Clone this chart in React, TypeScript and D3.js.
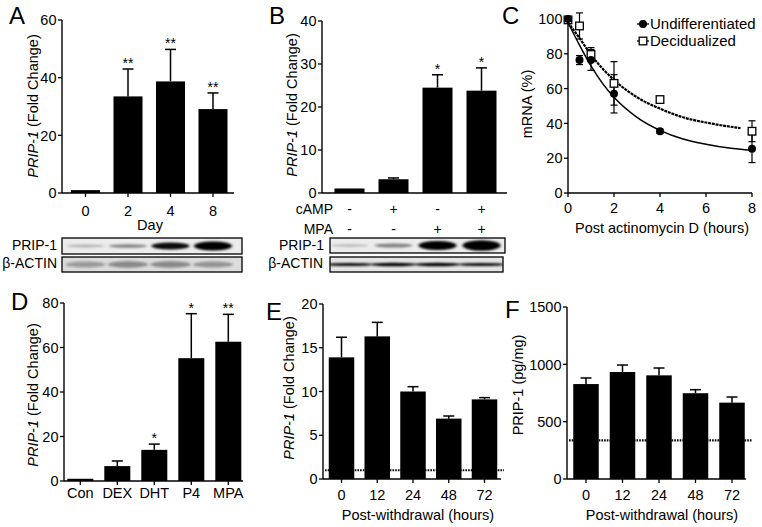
import React from "react";
import * as d3 from "d3";

const FONT = "'Liberation Sans', Arial, Helvetica, sans-serif";

// ---------- Panel A ----------
const dayCats = ["0", "2", "4", "8"];
const dayFold = [1.0, 33.5, 38.7, 29.1];
const dayFoldErr = [0, 9.5, 11.1, 5.6];
const dayStars = ["", "**", "**", "**"];
const dayTicks = [0, 20, 40, 60];
const dayBlotPrip = [0.25, 0.45, 0.95, 1.0];
const dayBlotPripSize = [1.4, 1.8, 3.4, 4.6];
const dayBlotActin = [0.35, 0.45, 0.45, 0.4];

// ---------- Panel B ----------
const treatCats = ["t1", "t2", "t3", "t4"];
const treatFold = [1.05, 3.2, 24.5, 23.8];
const treatFoldErr = [0, 0.3, 3.0, 5.3];
const treatStars = ["", "", "*", "*"];
const treatTicks = [0, 10, 20, 30, 40];
const campSigns = ["-", "+", "-", "+"];
const mpaSigns = ["-", "-", "+", "+"];
const treatBlotPrip = [0.2, 0.45, 1.0, 1.0];
const treatBlotPripSize = [1.4, 2.0, 4.6, 5.2];
const treatBlotActin = [0.95, 1.0, 1.0, 0.95];

// ---------- Panel C ----------
const timeHours = [0, 0.5, 1, 2, 4, 8];
const undiffMrna = [100, 76.4, 76.5, 57, 35.5, 25.5];
const undiffErr = [0, 2.6, 6, 11, 1.2, 8];
const decidMrna = [99.5, 96, 79.6, 63, 53.7, 35.5];
const decidErr = [0, 7.5, 4, 12.5, 1, 6];
const undiffFitT = [0, 0.5, 1, 1.5, 2, 3, 4, 5, 6, 7, 8];
const undiffFit = [98, 85, 73, 63, 55, 43.5, 36, 31, 28, 25.8, 24.5];
const decidFitT = [0, 0.5, 1, 1.5, 2, 3, 4, 5, 6, 7, 7.5];
const decidFit = [98, 89, 79.5, 71.5, 65, 55, 48.5, 43.5, 40.5, 38.2, 37.3];
const hourTicks = [0, 2, 4, 6, 8];
const mrnaTicks = [0, 20, 40, 60, 80, 100];
const legendNames = ["Undifferentiated", "Decidualized"];

// ---------- Panel D ----------
const steroidCats = ["Con", "DEX", "DHT", "P4", "MPA"];
const steroidFold = [1.0, 6.7, 14.0, 55.2, 62.6];
const steroidFoldErr = [0, 2.3, 2.6, 20.0, 12.3];
const steroidStars = ["", "", "*", "*", "**"];
const steroidTicks = [0, 20, 40, 60, 80];

// ---------- Panel E ----------
const withdrawCats = ["0", "12", "24", "48", "72"];
const withdrawFold = [13.9, 16.3, 10.0, 6.9, 9.1];
const withdrawFoldErr = [2.3, 1.6, 0.55, 0.3, 0.2];
const withdrawFoldTicks = [0, 5, 10, 15, 20];
const withdrawFoldBaseline = 1;

// ---------- Panel F ----------
const withdrawProt = [828, 933, 904, 748, 666];
const withdrawProtErr = [53, 61, 64, 31, 49];
const withdrawProtTicks = [0, 500, 1000, 1500];
const withdrawProtBaseline = 337;

const TICK_FS = 14.5;
const TITLE_FS = 14.5;

type BarProps = {
  cats: string[];
  values: number[];
  errs: number[];
  stars?: string[];
  yMax: number;
  ticks: number[];
  left: number;
  axisRight: number;
  top: number;
  bottom: number;
  c0: number;
  cN: number;
  barW: number;
  showXTicks?: boolean;
  tickLabelY?: number;
  refLine?: number;
  refLineEnd?: number;
};

function bandScale(cats: string[], c0: number, cN: number, barW: number) {
  const n = cats.length;
  const step = (cN - c0) / (n - 1);
  const pi = 1 - barW / step;
  return d3
    .scaleBand<string>()
    .domain(cats)
    .range([c0 - step / 2, cN + step / 2])
    .paddingInner(pi)
    .paddingOuter(pi / 2);
}

function YAxis({ y, ticks, x }: { y: d3.ScaleLinear<number, number>; ticks: number[]; x: number }) {
  const [lo, hi] = y.range();
  return (
    <g>
      <line x1={x} x2={x} y1={lo} y2={hi} stroke="#000" strokeWidth={1.4} />
      {ticks.map((t) => (
        <g key={t}>
          <line x1={x - 4} x2={x} y1={y(t)} y2={y(t)} stroke="#000" strokeWidth={1.3} />
          <text x={x - 5.5} y={y(t)} dy="0.36em" textAnchor="end" fontSize={TICK_FS}>
            {t}
          </text>
        </g>
      ))}
    </g>
  );
}

function BarPanel(p: BarProps) {
  const x = bandScale(p.cats, p.c0, p.cN, p.barW);
  const y = d3.scaleLinear().domain([0, p.yMax]).range([p.bottom, p.top]);
  const bw = x.bandwidth();
  return (
    <g>
      {p.cats.map((c, i) => {
        const bx = x(c)!;
        const cx = bx + bw / 2;
        const yt = y(p.values[i]);
        const ye = y(p.values[i] + p.errs[i]);
        return (
          <g key={c}>
            <rect x={bx} y={yt} width={bw} height={p.bottom - yt} fill="#000" />
            {p.errs[i] > 0 && (
              <g stroke="#000" strokeWidth={1.5}>
                <line x1={cx} x2={cx} y1={yt} y2={ye} />
                <line x1={cx - 5.5} x2={cx + 5.5} y1={ye} y2={ye} />
              </g>
            )}
            {p.stars && p.stars[i] && (
              <text x={cx} y={ye - 1} textAnchor="middle" fontSize={14}>
                {p.stars[i]}
              </text>
            )}
            {p.showXTicks && (
              <line x1={cx} x2={cx} y1={p.bottom} y2={p.bottom + 4} stroke="#000" strokeWidth={1.3} />
            )}
            {p.tickLabelY !== undefined && (
              <text x={cx} y={p.tickLabelY} textAnchor="middle" fontSize={TICK_FS}>
                {c}
              </text>
            )}
          </g>
        );
      })}
      {p.refLine !== undefined && (
        <line
          x1={p.left + 2}
          x2={p.refLineEnd}
          y1={y(p.refLine)}
          y2={y(p.refLine)}
          stroke="#000"
          strokeWidth={2.2}
          strokeDasharray="1.6,1.1"
        />
      )}
      <YAxis y={y} ticks={p.ticks} x={p.left} />
      <line x1={p.left} x2={p.axisRight} y1={p.bottom} y2={p.bottom} stroke="#000" strokeWidth={1.4} />
    </g>
  );
}

function Blot({
  x0,
  x1,
  y0,
  y1,
  centers,
  intens,
  sizes,
  bg,
  color,
  laneW,
  id,
}: {
  x0: number;
  x1: number;
  y0: number;
  y1: number;
  centers: number[];
  intens: number[];
  sizes: number[];
  bg: string;
  color: string;
  laneW: number;
  id: string;
}) {
  const cy = (y0 + y1) / 2;
  return (
    <g>
      <defs>
        <clipPath id={"clip" + id}>
          <rect x={x0} y={y0} width={x1 - x0} height={y1 - y0} />
        </clipPath>
      </defs>
      <rect x={x0} y={y0} width={x1 - x0} height={y1 - y0} fill={bg} />
      <g clipPath={`url(#clip${id})`} filter="url(#blotBlur)">
        {centers.map((c, i) => (
          <ellipse key={i} cx={c} cy={cy} rx={laneW / 2} ry={sizes[i]} fill={color} opacity={intens[i]} />
        ))}
      </g>
      <rect x={x0} y={y0} width={x1 - x0} height={y1 - y0} fill="none" stroke="#000" strokeWidth={1.3} />
    </g>
  );
}

function centersOf(cats: string[], c0: number, cN: number, barW: number) {
  const x = bandScale(cats, c0, cN, barW);
  return cats.map((c) => x(c)! + x.bandwidth() / 2);
}

function ErrBar({ cx, y1, y2 }: { cx: number; y1: number; y2: number }) {
  return (
    <g stroke="#000" strokeWidth={1.2}>
      <line x1={cx} x2={cx} y1={y1} y2={y2} />
      <line x1={cx - 3.5} x2={cx + 3.5} y1={y1} y2={y1} />
      <line x1={cx - 3.5} x2={cx + 3.5} y1={y2} y2={y2} />
    </g>
  );
}

function PanelC() {
  const x = d3.scaleLinear().domain([0, 8]).range([568, 752]);
  const y = d3.scaleLinear().domain([0, 100]).range([193, 19]);
  const mk = (ts: number[], vs: number[]) =>
    d3
      .line<number>()
      .x((_, i) => x(ts[i]))
      .y((v) => y(v))
      .curve(d3.curveMonotoneX)(vs) || "";
  return (
    <g>
      <path d={mk(undiffFitT, undiffFit)} fill="none" stroke="#000" strokeWidth={1.5} />
      <path d={mk(decidFitT, decidFit)} fill="none" stroke="#000" strokeWidth={2.2} strokeDasharray="3,0.8" />
      {timeHours.map((t, i) =>
        undiffErr[i] > 0 ? (
          <ErrBar key={"u" + i} cx={x(t)} y1={y(undiffMrna[i] - undiffErr[i])} y2={y(undiffMrna[i] + undiffErr[i])} />
        ) : null
      )}
      {timeHours.map((t, i) =>
        decidErr[i] > 0 ? (
          <ErrBar key={"d" + i} cx={x(t)} y1={y(decidMrna[i] - decidErr[i])} y2={y(decidMrna[i] + decidErr[i])} />
        ) : null
      )}
      {timeHours.map((t, i) => (
        <rect
          key={"ds" + i}
          x={x(t) - 3.8}
          y={y(decidMrna[i]) - 3.8}
          width={7.6}
          height={7.6}
          fill="#fff"
          stroke="#000"
          strokeWidth={1.3}
        />
      ))}
      {timeHours.map((t, i) => (
        <circle key={"uc" + i} cx={x(t)} cy={y(undiffMrna[i])} r={4} fill="#000" />
      ))}
      <YAxis y={y} ticks={mrnaTicks} x={568} />
      <line x1={568} x2={752} y1={193} y2={193} stroke="#000" strokeWidth={1.4} />
      {hourTicks.map((t) => (
        <g key={t}>
          <line x1={x(t)} x2={x(t)} y1={193} y2={197} stroke="#000" strokeWidth={1.3} />
          <text x={x(t)} y={213} textAnchor="middle" fontSize={TICK_FS}>
            {t}
          </text>
        </g>
      ))}
      <text x={662} y={233} textAnchor="middle" fontSize={TITLE_FS}>
        Post actinomycin D (hours)
      </text>
      <text transform="translate(532,104) rotate(-90)" textAnchor="middle" fontSize={TITLE_FS}>
        mRNA (%)
      </text>
      {legendNames.map((name, i) => {
        const ly = 24 + i * 17;
        return (
          <g key={name}>
            <line x1={637} x2={649} y1={ly} y2={ly} stroke="#000" strokeWidth={1.3} />
            {i === 0 ? (
              <circle cx={643} cy={ly} r={4} fill="#000" />
            ) : (
              <rect x={639.2} y={ly - 3.8} width={7.6} height={7.6} fill="#fff" stroke="#000" strokeWidth={1.3} />
            )}
            <text x={650} y={ly} dy="0.36em" fontSize={15}>
              {name}
            </text>
          </g>
        );
      })}
    </g>
  );
}

function FoldLabel({ x, y }: { x: number; y: number }) {
  return (
    <text transform={`translate(${x},${y}) rotate(-90)`} textAnchor="middle" fontSize={TITLE_FS}>
      <tspan fontStyle="italic">PRIP-1</tspan>
      {" (Fold Change)"}
    </text>
  );
}

export default function App() {
  const aCenters = centersOf(dayCats, 85.5, 213, 29);
  const bCenters = centersOf(treatCats, 349.5, 481.5, 30);
  return (
    <svg
      width={762}
      height={527}
      viewBox="0 0 762 527"
      style={{ position: "absolute", left: 0, top: 0, background: "#fff" }}
      fontFamily={FONT}
    >
      <defs>
        <filter id="blotBlur" x="-20%" y="-100%" width="140%" height="300%">
          <feGaussianBlur stdDeviation="1.6 1.0" />
        </filter>
      </defs>
      <rect x={0} y={0} width={762} height={527} fill="#fff" />

      {/* ---------------- Panel A ---------------- */}
      <text x={9} y={24} fontSize={24}>A</text>
      <BarPanel
        cats={dayCats}
        values={dayFold}
        errs={dayFoldErr}
        stars={dayStars}
        yMax={60}
        ticks={dayTicks}
        left={62}
        axisRight={234}
        top={20}
        bottom={193}
        c0={85.5}
        cN={213}
        barW={29}
        showXTicks
        tickLabelY={216}
      />
      <text x={150} y={229.5} textAnchor="middle" fontSize={TITLE_FS}>Day</text>
      <FoldLabel x={38} y={106} />
      <text x={57} y={250} textAnchor="end" fontSize={14}>PRIP-1</text>
      <Blot
        id="ap"
        x0={62}
        x1={242}
        y0={238}
        y1={254}
        centers={aCenters}
        intens={dayBlotPrip}
        sizes={dayBlotPripSize}
        bg="#ececec"
        color="#000"
        laneW={38}
      />
      <text x={57} y={268} textAnchor="end" fontSize={14}>β-ACTIN</text>
      <Blot
        id="aa"
        x0={62}
        x1={242}
        y0={257}
        y1={272}
        centers={aCenters}
        intens={dayBlotActin}
        sizes={[3, 3.2, 3.2, 3]}
        bg="#dcdcdc"
        color="#222"
        laneW={40}
      />

      {/* ---------------- Panel B ---------------- */}
      <text x={269} y={24} fontSize={24}>B</text>
      <BarPanel
        cats={treatCats}
        values={treatFold}
        errs={treatFoldErr}
        stars={treatStars}
        yMax={40}
        ticks={treatTicks}
        left={322}
        axisRight={507}
        top={21}
        bottom={193}
        c0={349.5}
        cN={481.5}
        barW={30}
      />
      <FoldLabel x={297} y={105} />
      <text x={333} y={213.5} textAnchor="end" fontSize={14}>cAMP</text>
      <text x={333} y={233.5} textAnchor="end" fontSize={14}>MPA</text>
      {bCenters.map((c, i) => (
        <g key={i}>
          <text x={c} y={213.5} textAnchor="middle" fontSize={14}>{campSigns[i]}</text>
          <text x={c} y={233.5} textAnchor="middle" fontSize={14}>{mpaSigns[i]}</text>
        </g>
      ))}
      <text x={324} y={250} textAnchor="end" fontSize={14}>PRIP-1</text>
      <Blot
        id="bp"
        x0={330}
        x1={505}
        y0={238}
        y1={253}
        centers={bCenters}
        intens={treatBlotPrip}
        sizes={treatBlotPripSize}
        bg="#ececec"
        color="#000"
        laneW={38}
      />
      <text x={323} y={268} textAnchor="end" fontSize={14}>β-ACTIN</text>
      <Blot
        id="ba"
        x0={330}
        x1={503}
        y0={257}
        y1={272}
        centers={bCenters}
        intens={treatBlotActin}
        sizes={[1.6, 1.7, 1.7, 1.6]}
        bg="#e4e4e4"
        color="#000"
        laneW={46}
      />

      {/* ---------------- Panel C ---------------- */}
      <text x={502} y={24} fontSize={24}>C</text>
      <PanelC />

      {/* ---------------- Panel D ---------------- */}
      <text x={11} y={310} fontSize={24}>D</text>
      <BarPanel
        cats={steroidCats}
        values={steroidFold}
        errs={steroidFoldErr}
        stars={steroidStars}
        yMax={80}
        ticks={steroidTicks}
        left={64}
        axisRight={243}
        top={303}
        bottom={481}
        c0={80.3}
        cN={228.3}
        barW={26}
        showXTicks
        tickLabelY={498}
      />
      <FoldLabel x={38} y={395} />

      {/* ---------------- Panel E ---------------- */}
      <text x={266} y={320} fontSize={24}>E</text>
      <BarPanel
        cats={withdrawCats}
        values={withdrawFold}
        errs={withdrawFoldErr}
        yMax={20}
        ticks={withdrawFoldTicks}
        left={323}
        axisRight={501}
        top={304}
        bottom={479}
        c0={341.5}
        cN={484.5}
        barW={25.5}
        showXTicks
        tickLabelY={500}
        refLine={withdrawFoldBaseline}
        refLineEnd={504}
      />
      <FoldLabel x={294} y={388} />
      <text x={418} y={520} textAnchor="middle" fontSize={TITLE_FS}>Post-withdrawal (hours)</text>

      {/* ---------------- Panel F ---------------- */}
      <text x={505} y={318} fontSize={24}>F</text>
      <BarPanel
        cats={withdrawCats}
        values={withdrawProt}
        errs={withdrawProtErr}
        yMax={1500}
        ticks={withdrawProtTicks}
        left={567}
        axisRight={746}
        top={307}
        bottom={479}
        c0={586}
        cN={732}
        barW={25.5}
        showXTicks
        tickLabelY={500}
        refLine={withdrawProtBaseline}
        refLineEnd={752}
      />
      <text transform="translate(523,385) rotate(-90)" textAnchor="middle" fontSize={TITLE_FS}>
        PRIP-1 (pg/mg)
      </text>
      <text x={662} y={520} textAnchor="middle" fontSize={TITLE_FS}>Post-withdrawal (hours)</text>
    </svg>
  );
}
